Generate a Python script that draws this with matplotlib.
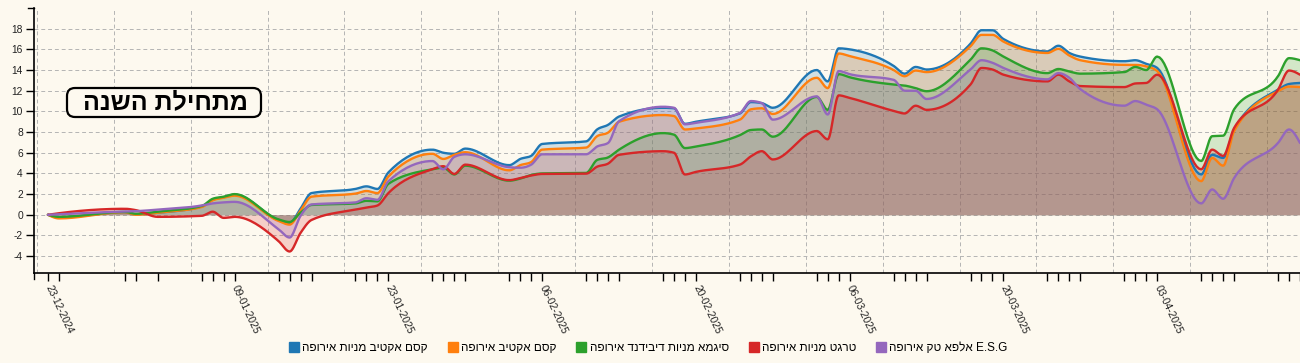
import numpy as np
import pandas as pd
import matplotlib
matplotlib.use('Agg')
import matplotlib.pyplot as plt
import matplotlib.dates as mdates
from matplotlib.lines import Line2D
from matplotlib.patches import FancyBboxPatch

plt.rcParams['font.family'] = ['Liberation Sans', 'DejaVu Sans']

# trading dates shown on the x axis
dates = ['2024-12-23', '2024-12-24', '2024-12-30', '2024-12-31', '2025-01-02',
         '2025-01-06', '2025-01-07', '2025-01-08', '2025-01-09',
         '2025-01-13', '2025-01-14', '2025-01-15', '2025-01-16',
         '2025-01-20', '2025-01-21', '2025-01-22', '2025-01-23',
         '2025-01-27', '2025-01-28', '2025-01-29', '2025-01-30',
         '2025-02-03', '2025-02-04', '2025-02-05', '2025-02-06',
         '2025-02-10', '2025-02-11', '2025-02-12', '2025-02-13',
         '2025-02-17', '2025-02-18', '2025-02-19', '2025-02-20',
         '2025-02-24', '2025-02-25', '2025-02-26', '2025-02-27',
         '2025-03-03', '2025-03-04', '2025-03-05', '2025-03-06',
         '2025-03-10', '2025-03-11', '2025-03-12', '2025-03-13',
         '2025-03-17', '2025-03-18', '2025-03-19', '2025-03-20',
         '2025-03-24', '2025-03-25', '2025-03-26', '2025-03-27',
         '2025-03-31', '2025-04-01', '2025-04-02', '2025-04-03',
         '2025-04-07', '2025-04-08', '2025-04-09', '2025-04-10',
         '2025-04-14', '2025-04-15', '2025-04-16']

labelled_dates = ['2024-12-23', '2025-01-09', '2025-01-23', '2025-02-06',
                  '2025-02-20', '2025-03-06', '2025-03-20', '2025-04-03']

names = ['קסם אקטיב מניות אירופה', 'קסם אקטיב אירופה', 'סיגמא מניות דיבידנד אירופה',
         'טרגט מניות אירופה', 'אלפא טק אירופה']
esg_suffix = 'E.S.G'
colors = ['#1f77b4', '#ff7f0e', '#2ca02c', '#d62728', '#9467bd']

kesem_active_stocks = [0, -0.25, 0.25, 0.05, 0.2, 0.8, 1.45, 1.7, 1.95,
                       -0.5, -0.8, 0.6, 2.1, 2.5, 2.75, 2.5, 4.1, 6.3, 6.0, 5.9, 6.4,
                       4.8, 5.4, 5.7, 6.85, 7.1, 8.25, 8.7, 9.5,
                       10.35, 10.3, 8.8, 9.0, 9.8, 10.9, 10.8, 10.35,
                       14.0, 12.9, 16.1, 16.0, 14.4, 13.65, 14.3, 14.05,
                       16.55, 17.85, 17.85, 17.0, 15.8, 16.35, 15.65, 15.3,
                       14.85, 14.95, 14.6, 14.2, 3.9, 5.8, 5.5, 8.25, 12.1, 12.65, 12.75]
kesem_active = [0, -0.35, 0.25, 0.0, 0.2, 0.75, 1.4, 1.65, 1.85,
                -0.6, -0.95, 0.4, 1.75, 2.05, 2.3, 2.1, 3.7, 5.9, 5.4, 5.8, 6.05,
                4.3, 4.8, 5.1, 6.3, 6.5, 7.6, 7.95, 9.0,
                9.65, 9.55, 8.25, 8.35, 9.2, 10.2, 10.3, 9.75,
                13.25, 12.25, 15.6, 15.35, 14.0, 13.4, 13.95, 13.8,
                16.3, 17.4, 17.4, 16.75, 15.65, 16.05, 15.4, 14.95,
                14.5, 14.5, 14.35, 13.9, 3.25, 5.5, 4.75, 8.1, 11.95, 12.4, 12.35]
sigma_dividend = [0, -0.2, 0.28, 0.1, 0.3, 0.85, 1.55, 1.75, 2.0,
                  -0.45, -0.7, 0.2, 0.95, 1.1, 1.35, 1.3, 3.0, 4.4, 4.55, 3.9, 4.75,
                  3.3, 3.5, 3.85, 4.0, 4.05, 5.3, 5.55, 6.3,
                  7.9, 7.75, 6.45, 6.6, 7.7, 8.2, 8.25, 7.55,
                  11.4, 10.15, 13.6, 13.3, 12.6, 12.5, 12.25, 11.95,
                  15.0, 16.1, 15.9, 15.3, 13.7, 14.1, 13.85, 13.65,
                  13.8, 14.3, 14.0, 15.3, 5.2, 7.6, 7.65, 10.2, 13.4, 15.15, 14.95]
target_stocks = [0, 0.15, 0.58, 0.45, -0.2, -0.1, 0.3, -0.3, -0.2,
                 -2.55, -3.55, -1.75, -0.5, 0.5, 0.7, 0.9, 2.1, 4.4, 4.7, 3.95, 4.85,
                 3.35, 3.55, 3.8, 3.95, 3.98, 4.65, 4.95, 5.8,
                 6.15, 6.0, 3.9, 4.15, 4.85, 5.65, 6.15, 5.35,
                 8.1, 7.3, 11.55, 11.3, 10.05, 9.8, 10.55, 10.15,
                 12.6, 14.2, 14.05, 13.55, 12.9, 13.55, 12.9, 12.45,
                 12.35, 12.7, 12.75, 13.55, 4.4, 6.3, 5.7, 8.4, 12.1, 13.95, 13.55]
alpha_tech_esg = [0, 0.05, 0.32, 0.35, 0.5, 0.9, 1.1, 1.2, 1.25,
                  -1.4, -2.2, -0.1, 1.0, 1.2, 1.6, 1.45, 3.25, 5.2, 4.4, 5.6, 5.85,
                  4.6, 4.55, 4.85, 5.85, 5.85, 6.6, 6.95, 9.05,
                  10.45, 10.35, 8.75, 8.9, 9.85, 11.0, 10.8, 9.2,
                  11.45, 9.7, 13.9, 13.6, 13.05, 12.0, 12.0, 11.2,
                  14.05, 14.95, 14.7, 14.2, 13.1, 13.7, 13.25, 12.15,
                  10.55, 11.0, 10.65, 10.2, 1.1, 2.45, 1.55, 3.55, 6.95, 8.25, 6.95]

series = [kesem_active_stocks, kesem_active, sigma_dividend, target_stocks, alpha_tech_esg]

title_text = 'מתחילת השנה'
bg = '#fdf9ef'
W, H = 1300, 363


def visual(s):
    # matplotlib has no bidi support: give Hebrew runs in display order
    return s[::-1]


def monotone_curve(x, y, n=20):
    # same shape as d3.curveMonotoneX
    x = np.asarray(x, float)
    y = np.asarray(y, float)
    h = np.diff(x)
    s = np.diff(y) / h
    t = np.zeros_like(y)
    for i in range(1, len(x) - 1):
        h0, h1, s0, s1 = h[i - 1], h[i], s[i - 1], s[i]
        p = (s0 * h1 + s1 * h0) / (h0 + h1)
        t[i] = (np.sign(s0) + np.sign(s1)) * min(abs(s0), abs(s1), 0.5 * abs(p))
    t[0] = (3 * s[0] - t[1]) / 2
    t[-1] = (3 * s[-1] - t[-2]) / 2
    xs, ys = [], []
    u = np.linspace(0, 1, n)
    for i in range(len(x) - 1):
        h00 = 2 * u**3 - 3 * u**2 + 1
        h10 = u**3 - 2 * u**2 + u
        h01 = -2 * u**3 + 3 * u**2
        h11 = u**3 - u**2
        xs.append(x[i] + u * h[i])
        ys.append(h00 * y[i] + h10 * h[i] * t[i] + h01 * y[i + 1] + h11 * h[i] * t[i + 1])
    return np.concatenate(xs), np.concatenate(ys)


xd = mdates.date2num(pd.to_datetime(dates))

fig = plt.figure(figsize=(W / 100, H / 100), dpi=100, facecolor=bg)
ax = fig.add_axes([34 / W, 90 / H, 1266 / W, 265 / H])
ax.set_facecolor(bg)

# weekly vertical grid (Sundays) and horizontal grid
grid_kw = dict(color='#b4b4b4', lw=0.7, ls=(0, (4, 3)), zorder=0)
sundays = pd.date_range('2024-12-22', '2025-04-13', freq='7D')
for d in mdates.date2num(sundays):
    ax.axvline(d, **grid_kw)
yticks = list(range(-4, 19, 2))
for v in yticks:
    ax.axhline(v, **grid_kw)

curves = [monotone_curve(xd, s) for s in series]
for (cx, cy), c in zip(curves, colors):
    ax.fill_between(cx, cy, 0, color=c, alpha=0.2, lw=0, zorder=1)
for (cx, cy), c in zip(curves, colors):
    ax.plot(cx, cy, color=c, lw=1.7, solid_capstyle='round', zorder=2)

ax.set_xlim(xd[0] - 1.27, xd[-1])
ax.set_ylim(-5.63, 20.0)

ax.set_yticks(yticks)
ax.set_yticklabels([str(v) for v in yticks])
ax.set_xticks(xd)
ax.set_xticklabels([pd.Timestamp(d).strftime('%d-%m-%Y') if d in labelled_dates else ''
                    for d in dates])
ax.tick_params(axis='x', length=6, width=1, color='black', pad=3, labelsize=7.4, labelcolor='#222222')
ax.tick_params(axis='y', length=6, width=1, color='black', pad=2, labelsize=7.4, labelcolor='#222222')
for lbl in ax.get_xticklabels():
    lbl.set_rotation(-65)
    lbl.set_ha('left')
    lbl.set_va('center')
    lbl.set_rotation_mode('anchor')

for side in ['top', 'right']:
    ax.spines[side].set_visible(False)
for side in ['left', 'bottom']:
    ax.spines[side].set_linewidth(1.2)
    ax.spines[side].set_color('black')
# outer ticks of the axis ends
ax.plot([0, 0], [0, -6 / 265], transform=ax.transAxes, color='black', lw=1, clip_on=False)
ax.plot([0, -6 / 1266], [1, 1], transform=ax.transAxes, color='black', lw=1, clip_on=False)

# title badge, laid out in inches (1 in = 100 px)
box = FancyBboxPatch((0.67, (H - 117) / 100), 1.94, 0.29, transform=fig.dpi_scale_trans,
                     boxstyle='round,pad=0,rounding_size=0.08',
                     fc=bg, ec='black', lw=1.6, zorder=5)
fig.patches.append(box)
fig.text(165 / W, 1 - 102.5 / H, visual(title_text), ha='center', va='center',
         fontsize=18, fontweight='bold', color='black', zorder=6)

labels = [visual(n) for n in names]
labels[-1] = labels[-1] + ' ' + esg_suffix
handles = [Line2D([], [], marker='s', ls='', markersize=7.5, color=c) for c in colors]
fig.legend(handles, labels, loc='center', bbox_to_anchor=(648 / W, 1 - 348 / H),
           ncol=5, frameon=False, fontsize=8.5, handletextpad=0.2, columnspacing=1.6,
           handlelength=1.0, borderaxespad=0)

fig.savefig('out.png', dpi=100, facecolor=bg)
